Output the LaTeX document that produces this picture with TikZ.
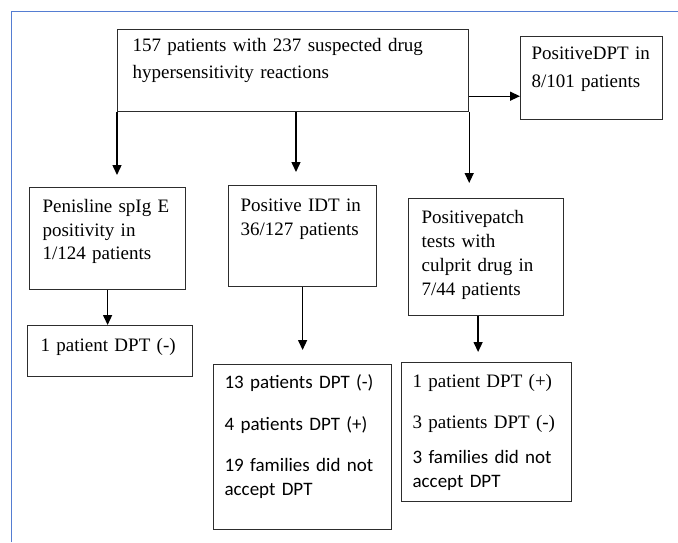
\documentclass[tikz,border=0pt]{standalone}
\usepackage{fontspec}
\setmainfont{Liberation Serif}
\newfontfamily\calibri{Carlito}
\usetikzlibrary{arrows.meta}
\definecolor{boxline}{RGB}{45,45,45}
\definecolor{framebl}{RGB}{85,125,210}
\tikzset{
  box/.style={rectangle,draw=boxline,line width=1.2pt,anchor=north west,align=left,inner ysep=0pt,font=\fontsize{19}{23.5}\selectfont},
  arr/.style={-{Triangle[length=10pt,width=9pt]},line width=1.4pt},
  frame/.style={draw=framebl,line width=1pt}
}

\begin{document}
\begin{tikzpicture}[x=1pt,y=-1pt]
  \useasboundingbox (0,0) rectangle (678,542);
  \draw[frame] (11,542) -- (11,11) -- (678,11);
  % top row
  \node[box,inner xsep=15pt,text width=321pt,text height=22pt,text depth=60pt,font=\fontsize{19}{27}\selectfont] (top) at (117,29) {157 patients with 237 suspected drug\\hypersensitivity reactions};
  \node[box,inner xsep=11pt,text width=120pt,text height=23pt,text depth=60pt,font=\fontsize{19}{28}\selectfont] (dpt) at (520,36) {PositiveDPT in\\8/101 patients};
  % second row
  \node[box,inner xsep=13pt,text width=130pt,text height=25pt,text depth=77pt] (pen) at (29,187) {Penisline spIg E\\positivity in\\1/124 patients};
  \node[box,inner xsep=12pt,text width=124pt,text height=26pt,text depth=75pt] (idt) at (228,185) {Positive IDT in\\36/127 patients};
  \node[box,inner xsep=13pt,text width=129pt,text height=25pt,text depth=92pt,font=\fontsize{19}{24}\selectfont] (patch) at (408,198) {Positivepatch\\tests with\\culprit drug in\\7/44 patients};
  % results
  \node[box,inner xsep=13pt,text width=139pt,text height=26pt,text depth=25pt] (one) at (27,325) {1 patient DPT (-)};
  \node[box,inner xsep=11pt,text width=156pt,text height=24pt,text depth=141pt,font=\fontsize{19}{24}\selectfont] (res13) at (213,364) {\calibri 13 patients DPT (-)\\[18pt]4 patients DPT (+)\\[17pt]19 families did not\\accept DPT};
  \node[box,inner xsep=11pt,text width=148pt,text height=25pt,text depth=114pt,font=\fontsize{19}{24}\selectfont] (res7) at (401,362) {1 patient DPT (+)\\[17pt]3 patients DPT (-)\\[11pt]{\calibri 3 families did not\\accept DPT}};
  % connectors
  \coordinate (midout) at ([xshift=179pt]top.south west);
  \coordinate (patchout) at ([xshift=-8pt]patch.south);
  \draw[arr] ([yshift=16pt]top.south east) -- ([yshift=24pt]dpt.south west);
  \draw[arr,shorten >=12pt] (top.south west) -- (top.south west |- pen.north);
  \draw[arr,shorten >=13pt] (midout) -- (midout |- idt.north);
  \draw[arr,shorten >=15pt] (top.south east) -- (top.south east |- patch.north);
  \draw[arr] (pen.south) -- (pen.south |- one.north);
  \draw[arr,shorten >=14pt] (idt.south) -- (idt.south |- res13.north);
  \draw[arr,shorten >=10pt] (patchout) -- (patchout |- res7.north);
\end{tikzpicture}
\end{document}
